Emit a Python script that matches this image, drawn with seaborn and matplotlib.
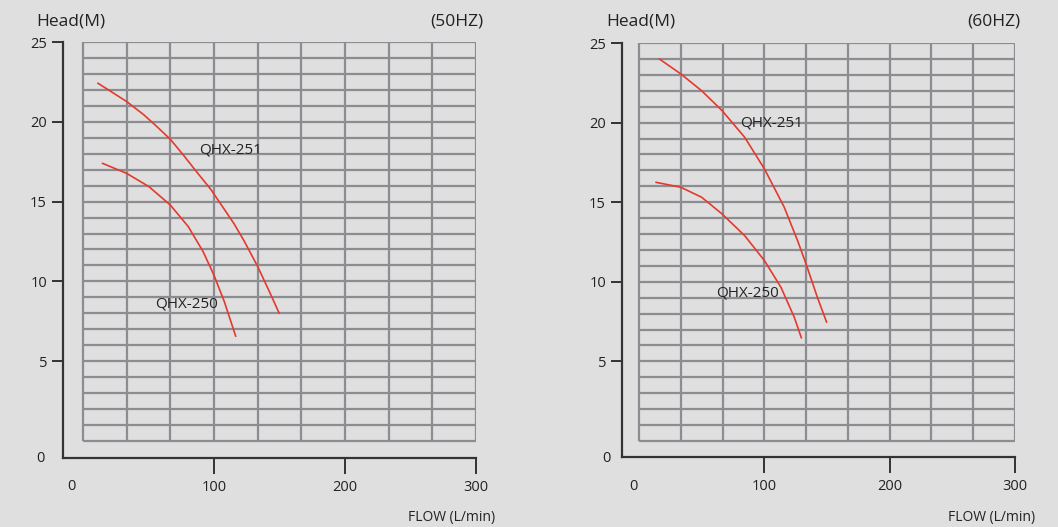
import matplotlib
matplotlib.use("Agg")
import matplotlib.pyplot as plt
import seaborn as sns
import numpy as np
import pandas as pd

# ---- data ----
x_ticks = [100, 200, 300]
y_ticks = [5, 10, 15, 20, 25]

# 50 Hz
q251_50_flow = [11.3, 21.3, 33.3, 46.4, 56.4, 66.7, 76.4, 86.4, 97.7, 108.0,
                115.4, 122.9, 133.3, 141.5, 149.8]
q251_50_head = [22.42, 21.9, 21.27, 20.44, 19.7, 18.9, 17.94, 16.9, 15.75, 14.5,
                13.6, 12.55, 10.94, 9.5, 8.0]
q250_50_flow = [14.8, 33.3, 50.3, 66.6, 80.3, 91.6, 99.8, 107.8, 116.6]
q250_50_head = [17.4, 16.77, 15.94, 14.79, 13.44, 11.88, 10.42, 8.75, 6.56]

# 60 Hz
q251_60_flow = [16.2, 33.3, 50.0, 66.3, 84.3, 100.1, 115.9, 126.5, 133.3, 142.3, 149.7]
q251_60_head = [24.0, 23.06, 22.0, 20.75, 19.08, 17.09, 14.68, 12.59, 11.12, 9.03, 7.46]
q250_60_flow = [13.5, 33.3, 50.0, 66.3, 84.3, 100.1, 113.3, 123.9, 129.6]
q250_60_head = [16.25, 15.94, 15.31, 14.26, 12.9, 11.33, 9.65, 7.77, 6.47]

panels = [
    dict(title="(50HZ)",
         curves=[("QHX-251", q251_50_flow, q251_50_head, (89, 18.25)),
                 ("QHX-250", q250_50_flow, q250_50_head, (55, 8.6))]),
    dict(title="(60HZ)",
         curves=[("QHX-251", q251_60_flow, q251_60_head, (80.5, 20.0)),
                 ("QHX-250", q250_60_flow, q250_60_head, (61.5, 9.3))]),
]

sns.set_theme(style="white")
plt.rcParams["font.family"] = ["Open Sans", "DejaVu Sans"]

BG = "#dfdfdf"
GRID = "#8c8c93"
TXT = "#222222"
RED = "#e5392d"
W, H = 1058, 527

fig = plt.figure(figsize=(W / 100, H / 100), dpi=100, facecolor=BG)

# pixel layout: (spine_x, grid_right_x, top_y, spine_y, grid_left_x, grid_bottom_y)
layouts = [(63, 476, 42, 458, 83, 441), (622, 1015, 43, 457, 639, 441)]
text_pos = [
    dict(head=36, hz=483, flow=495, y0=40, x0=71),
    dict(head=606, hz=1020, flow=1035, y0=606, x0=633),
]

for p, lay, tp in zip(panels, layouts, text_pos):
    sx, gr, ty, sy, gl, gb = lay
    ax = fig.add_axes([sx / W, 1 - sy / H, (gr - sx) / W, (sy - ty) / H])
    ax.set_facecolor(BG)
    xpx = (gr - gl) / 300.0
    ypx = (gb - ty) / 25.0
    ax.set_xlim(-(gl - sx) / xpx, 300)
    ax.set_ylim(-(sy - gb) / ypx, 25)

    # grid rectangle 0..300 x 0..25
    ax.hlines(np.arange(0, 26, 1), 0, 300, color=GRID, lw=1.6, zorder=1)
    ax.vlines(np.linspace(0, 300, 10), 0, 25, color=GRID, lw=1.6, zorder=1)

    for name, fx, fy, (lx, ly) in p["curves"]:
        df = pd.DataFrame({"flow": fx, "head": fy})
        sns.lineplot(data=df, x="flow", y="head", ax=ax, color=RED, lw=1.2,
                     sort=False, zorder=3)
        ax.text(lx, ly, name, fontsize=11, color=TXT, ha="left", va="center",
                zorder=4)

    ax.set_xlabel("")
    ax.set_ylabel("")
    ax.set_xticks(x_ticks)
    ax.set_yticks(y_ticks)
    ax.set_xticklabels([str(v) for v in x_ticks])
    ax.set_yticklabels([str(v) for v in y_ticks])
    ax.tick_params(axis="x", direction="out", length=11.5, width=1.4,
                   color="#333333", pad=4, labelsize=10.5, labelcolor=TXT,
                   bottom=True)
    ax.tick_params(axis="y", direction="out", length=8, width=1.4,
                   color="#333333", pad=3.5, labelsize=10.5, labelcolor=TXT,
                   left=True)
    for s in ["top", "right"]:
        ax.spines[s].set_visible(False)
    for s in ["left", "bottom"]:
        ax.spines[s].set_color("#333333")
        ax.spines[s].set_linewidth(1.6)

    fig.text(tp["head"] / W, 1 - 22 / H, "Head(M)", fontsize=12.5, color=TXT,
             ha="left", va="center")
    fig.text(tp["hz"] / W, 1 - 22 / H, p["title"], fontsize=12.5, color=TXT,
             ha="right", va="center")
    fig.text(tp["flow"] / W, 1 - 517 / H, "FLOW (L/min)", fontsize=10,
             color=TXT, ha="right", va="center")
    fig.text(tp["y0"] / W, 1 - 459 / H, "0", fontsize=10.5, color=TXT,
             ha="center", va="center")
    fig.text(tp["x0"] / W, 1 - 487 / H, "0", fontsize=10.5, color=TXT,
             ha="center", va="center")

fig.savefig("out.png", dpi=100, facecolor=BG)
